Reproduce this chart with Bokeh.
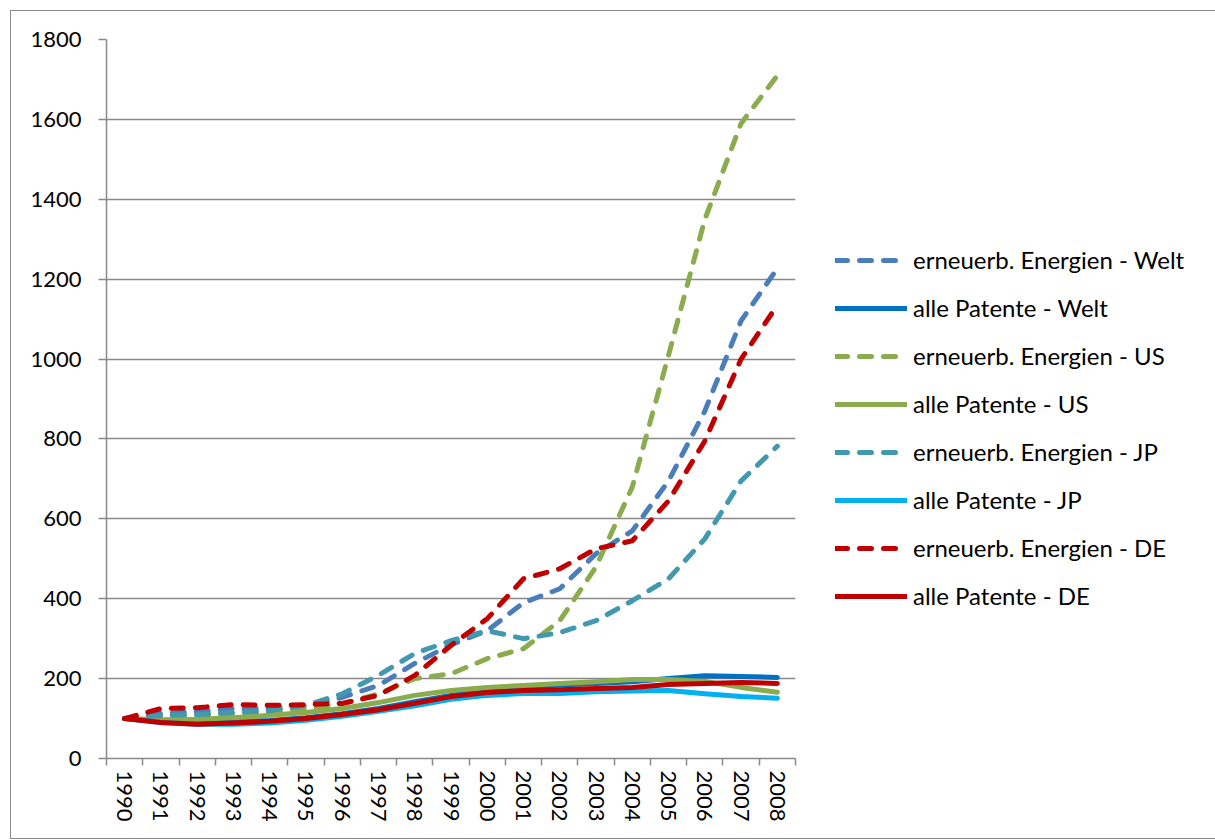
from bokeh.plotting import figure
from bokeh.models import Range1d, FixedTicker, Legend, LegendItem
from bokeh.embed import file_html
from bokeh.resources import INLINE

years = list(range(1990, 2009))

ee_welt = [100, 113, 117, 125, 125, 130, 153, 183, 238, 285, 320, 390, 425, 513, 570, 695, 870, 1096, 1227]
all_welt = [100, 92, 90, 92, 95, 102, 112, 125, 142, 158, 170, 178, 184, 188, 192, 200, 207, 205, 203]
ee_us = [100, 105, 108, 112, 115, 122, 137, 162, 200, 212, 250, 275, 345, 480, 680, 1010, 1350, 1590, 1710]
all_us = [100, 97, 98, 102, 108, 115, 125, 140, 158, 170, 178, 183, 188, 192, 198, 198, 193, 178, 166]
ee_jp = [100, 108, 110, 115, 120, 133, 162, 208, 263, 295, 320, 300, 315, 345, 395, 450, 550, 695, 782]
all_jp = [100, 90, 86, 86, 89, 96, 106, 118, 132, 148, 158, 163, 163, 167, 169, 170, 162, 155, 151]
ee_de = [100, 125, 127, 135, 133, 135, 138, 158, 208, 283, 350, 450, 475, 525, 545, 645, 795, 1000, 1135]
all_de = [100, 90, 86, 89, 93, 100, 110, 122, 138, 155, 165, 170, 172, 175, 178, 185, 188, 190, 188]

names = ["erneuerb. Energien - Welt", "alle Patente - Welt",
         "erneuerb. Energien - US", "alle Patente - US",
         "erneuerb. Energien - JP", "alle Patente - JP",
         "erneuerb. Energien - DE", "alle Patente - DE"]
series = [ee_welt, all_welt, ee_us, all_us, ee_jp, all_jp, ee_de, all_de]
colors = ["#4a7ebb", "#0070c0", "#8aab4e", "#8aab4e", "#4198af", "#00b0f0", "#c00000", "#c00000"]
dashed = [True, False, True, False, True, False, True, False]

y_ticks = list(range(0, 2000, 200))

FONT = "Lato"
GRID = "#898989"

p = figure(frame_width=689, frame_height=719, output_backend="svg", toolbar_location=None,
           x_range=Range1d(1989.5, 2008.5), y_range=Range1d(0, 1800),
           min_border_left=95, min_border_right=0, min_border_top=28, min_border_bottom=80)
p.styles = {"margin-left": "10px", "margin-top": "10px", "border": "1px solid #898989"}
p.outline_line_color = None
p.background_fill_color = "white"
p.border_fill_color = "white"

p.xgrid.grid_line_color = None
p.ygrid.grid_line_color = GRID
p.ygrid.grid_line_width = 1.5
p.ygrid.ticker = FixedTicker(ticks=y_ticks)

p.yaxis.ticker = FixedTicker(ticks=y_ticks)
p.yaxis.axis_line_color = GRID
p.yaxis.axis_line_width = 1.5
p.yaxis.major_tick_line_color = GRID
p.yaxis.major_tick_line_width = 1.5
p.yaxis.major_tick_out = 8
p.yaxis.major_tick_in = 0
p.yaxis.minor_tick_line_color = None
p.yaxis.major_label_standoff = 17
p.yaxis.major_label_text_font = FONT
p.yaxis.major_label_text_font_size = "22px"
p.yaxis.major_label_text_color = "black"

p.xaxis.ticker = FixedTicker(ticks=years, minor_ticks=[y - 0.5 for y in years] + [2008.5])
p.xaxis.major_label_overrides = {y: str(y) for y in years}
p.xaxis.axis_line_color = GRID
p.xaxis.axis_line_width = 1.5
p.xaxis.major_tick_line_color = None
p.xaxis.minor_tick_line_color = GRID
p.xaxis.minor_tick_line_width = 1.5
p.xaxis.minor_tick_out = 7
p.xaxis.minor_tick_in = 0
p.xaxis.major_tick_out = 7
p.xaxis.major_label_orientation = "vertical"
p.xaxis.major_label_standoff = 5
p.xaxis.major_label_text_font = FONT
p.xaxis.major_label_text_font_size = "22px"
p.xaxis.major_label_text_color = "black"

items = []
for name, ys, col, d in zip(names, series, colors, dashed):
    kw = dict(line_color=col, line_width=5, line_join="round", line_cap="round")
    if d:
        kw["line_dash"] = "12 12"
    r = p.line(years, ys, **kw)
    items.append(LegendItem(label=name, renderers=[r]))

legend = Legend(items=items, location=(40, 148), orientation="vertical",
                glyph_width=72, glyph_height=20, label_height=20, spacing=19,
                padding=0, margin=0, label_standoff=6,
                label_text_font=FONT, label_text_font_size="24px",
                label_text_color="black", border_line_color=None,
                background_fill_alpha=0)
p.add_layout(legend, "right")

open("out.html", "w").write(file_html(p, INLINE))
